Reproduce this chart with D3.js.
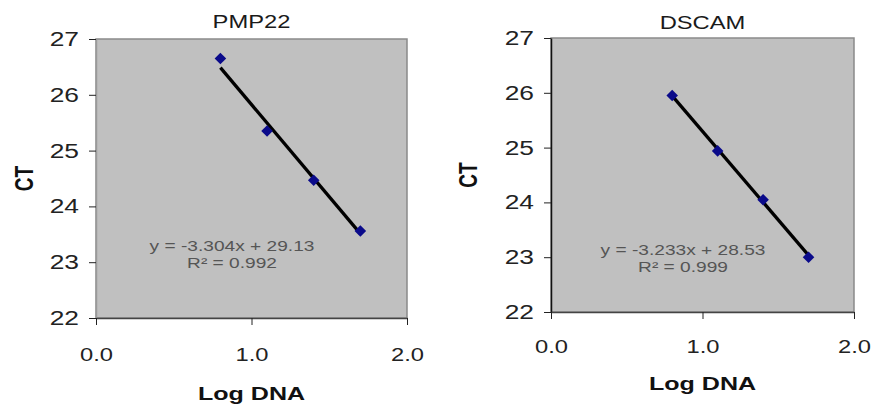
<!DOCTYPE html>
<html>
<head>
<meta charset="utf-8">
<script src="https://cdn.jsdelivr.net/npm/d3@7"></script>
<style>
  body { margin: 0; background: #fff; }
  text { font-family: Arial, "Liberation Sans", sans-serif; }
</style>
</head>
<body>
<div id="chart"></div>
<script>
// data
var logDNA = [0.8, 1.1, 1.4, 1.7];
var ctPMP22 = [26.65, 25.35, 24.47, 23.56];
var ctDSCAM = [25.95, 24.94, 24.05, 23.0];
var fitPMP22 = { slope: -3.304, intercept: 29.13, r2: "0.992" };
var fitDSCAM = { slope: -3.233, intercept: 28.53, r2: "0.999" };
var xTicks = [0, 1, 2];
var yTicks = [22, 23, 24, 25, 26, 27];

var svgWidth = 872;
var svgHeight = 409;
// the source picture is stretched sideways, so text is too
var stretch = 1.32;

var svg = d3.select("#chart")
    .append("svg")
    .attr("width", svgWidth)
    .attr("height", svgHeight);

function label(g, x, y, txt, size, bold) {
    return g.append("text")
        .attr("transform", `translate(${x}, ${y}) scale(${stretch}, 1)`)
        .attr("text-anchor", "middle")
        .attr("font-size", size + "px")
        .attr("font-weight", bold ? "bold" : "normal")
        .attr("fill", "#1a1a1a")
        .text(txt);
}

// one panel per gene
function drawPanel(opt) {
    var xScale = d3.scaleLinear().domain([0, 2]).range([opt.left, opt.right]);
    var yScale = d3.scaleLinear().domain([22, 27]).range([opt.bottom, opt.top]);

    var g = svg.append("g");

    // grey plot area
    g.append("rect")
        .attr("x", opt.left)
        .attr("y", opt.top)
        .attr("width", opt.right - opt.left)
        .attr("height", opt.bottom - opt.top)
        .attr("fill", "#c0c0c0")
        .attr("stroke", "#8a8a8a")
        .attr("stroke-width", 1.5);

    // axes
    var yAxis = d3.axisLeft(yScale).tickValues(yTicks).tickFormat(d3.format("d"))
        .tickSize(7).tickPadding(10).tickSizeOuter(0);
    var xAxis = d3.axisBottom(xScale).tickValues(xTicks).tickFormat(d3.format(".1f"))
        .tickSize(7).tickPadding(opt.xPad).tickSizeOuter(0);

    var ya = g.append("g")
        .attr("transform", `translate(${opt.left}, 0)`)
        .call(yAxis);
    var xa = g.append("g")
        .attr("transform", `translate(0, ${opt.bottom})`)
        .call(xAxis);

    ya.select(".domain").attr("stroke", opt.yAxisColor).attr("stroke-width", 1.5);
    xa.select(".domain").attr("stroke", "#444").attr("stroke-width", 1.5);
    ya.selectAll(".tick line").attr("stroke", "#222");
    xa.selectAll(".tick line").attr("stroke", "#222");
    ya.selectAll(".tick text")
        .attr("font-size", "20px").attr("fill", "#222")
        .attr("x", -17 / stretch)
        .attr("transform", `scale(${stretch}, 1)`);
    xa.selectAll(".tick text")
        .attr("font-size", "18px").attr("fill", "#222")
        .attr("transform", `scale(${stretch}, 1)`);

    // trend line
    var x0 = d3.min(logDNA), x1 = d3.max(logDNA);
    g.append("line")
        .attr("x1", xScale(x0))
        .attr("y1", yScale(opt.fit.slope * x0 + opt.fit.intercept))
        .attr("x2", xScale(x1))
        .attr("y2", yScale(opt.fit.slope * x1 + opt.fit.intercept))
        .attr("stroke", "#000")
        .attr("stroke-width", 3.3);

    // diamond markers
    var sym = d3.symbol().type(d3.symbolDiamond2).size(85);
    g.selectAll("path.pt")
        .data(logDNA.map((d, i) => [d, opt.ct[i]]))
        .enter()
        .append("path")
        .attr("class", "pt")
        .attr("d", sym)
        .attr("transform", d => `translate(${xScale(d[0])}, ${yScale(d[1])})`)
        .attr("fill", "#0a0a8a");

    // equation
    label(g, opt.eqX, opt.eqY, `y = ${opt.fit.slope}x + ${opt.fit.intercept}`, 14.5, false)
        .attr("fill", "#555");
    label(g, opt.eqX, opt.eqY + 17, `R² = ${opt.fit.r2}`, 14.5, false)
        .attr("fill", "#555");

    // title
    label(g, (opt.left + opt.right) / 2, opt.titleY, opt.title, 18, false);

    // axis labels
    g.append("text")
        .attr("transform", `translate(${opt.ctX}, ${(opt.top + opt.bottom) / 2}) scale(${stretch}, 1) rotate(-90)`)
        .attr("text-anchor", "middle")
        .attr("font-weight", "bold")
        .attr("font-size", "19px")
        .attr("fill", "#111")
        .text("CT");

    label(g, (opt.left + opt.right) / 2, opt.logY, "Log DNA", 19, true).attr("fill", "#111");
}

drawPanel({
    title: "PMP22", ct: ctPMP22, fit: fitPMP22,
    left: 96, right: 407, top: 39, bottom: 318,
    xPad: 23, yAxisColor: "#9a9a9a", titleY: 28,
    eqX: 232, eqY: 251, ctX: 33, logY: 400
});

drawPanel({
    title: "DSCAM", ct: ctDSCAM, fit: fitDSCAM,
    left: 551, right: 854, top: 38, bottom: 312,
    xPad: 21, yAxisColor: "#111", titleY: 29,
    eqX: 683, eqY: 255, ctX: 477, logY: 390
});
</script>
</body>
</html>
